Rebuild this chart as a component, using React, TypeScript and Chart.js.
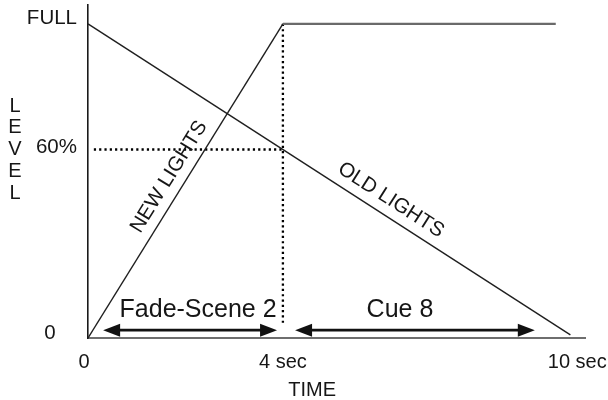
import React, { useEffect, useRef } from "react";
import { Chart, registerables } from "chart.js";

Chart.register(...registerables);

// ---- data ----
const newLightsX = [0, 4, 9.6];
const newLightsY = [0, 100, 100];
const oldLightsX = [0, 9.9];
const oldLightsY = [100, 1];
const guideH_X = [0.12, 4];
const guideH_Y = [60, 60];
const guideV_X = [4, 4];
const guideV_Y = [100, 4.8];

const xTickValues = [0, 4, 10];
const xTickLabels = ["0", "4 sec", "10 sec"];
const yTickValues = [100, 60, 0];
const yTickLabels = ["FULL", "60%", "0"];

const arrowLabels = ["Fade-Scene 2", "Cue 8"];
const arrowStarts = [0.31, 4.25];
const arrowEnds = [3.88, 9.17];
const arrowLevel = [2.5, 2.5];

const lineLabels = ["NEW LIGHTS", "OLD LIGHTS"];
const xTitle = "TIME";
const yTitle = "LEVEL";

const FONT = "'Liberation Sans', Arial, Helvetica, sans-serif";
const TEXT = "#161616";

const pts = (xs: number[], ys: number[]) => xs.map((x, i) => ({ x, y: ys[i] }));

const annotations = {
  id: "annotations",
  afterDraw(chart: any) {
    const { ctx, scales } = chart;
    const xs = scales.x;
    const ys = scales.y;
    const px = (v: number) => xs.getPixelForValue(v);
    const py = (v: number) => ys.getPixelForValue(v);
    ctx.save();
    ctx.fillStyle = TEXT;

    // x tick labels
    ctx.font = `20px ${FONT}`;
    ctx.textAlign = "center";
    ctx.textBaseline = "middle";
    xTickValues.forEach((v, i) => {
      ctx.fillText(xTickLabels[i], px(v) - (i === 0 ? 4 : i === 2 ? -2 : 0), py(0) + 24);
    });
    ctx.fillText(xTitle, px(4.6), py(0) + 52);

    // y tick labels
    ctx.font = `20.5px ${FONT}`;
    yTickValues.forEach((v, i) => {
      if (v === 0) {
        ctx.textAlign = "center";
        ctx.fillText(yTickLabels[i], xs.left - 38, py(v) - 5);
      } else {
        ctx.textAlign = "right";
        ctx.fillText(yTickLabels[i], xs.left - 11, py(v) - (v === 100 ? 6 : 2));
      }
    });

    // y title stacked
    ctx.font = `20px ${FONT}`;
    ctx.textAlign = "center";
    const letters = yTitle.split("");
    letters.forEach((ch, i) => {
      ctx.fillText(ch, 15, 106 + i * 21.8);
    });

    // arrows
    arrowLabels.forEach((lab, i) => {
      const x1 = px(arrowStarts[i]);
      const x2 = px(arrowEnds[i]);
      const y = py(arrowLevel[i]);
      const head = 17;
      const hw = 6.5;
      ctx.strokeStyle = "#111";
      ctx.lineWidth = 2.8;
      ctx.beginPath();
      ctx.moveTo(x1 + head - 2, y);
      ctx.lineTo(x2 - head + 2, y);
      ctx.stroke();
      ctx.fillStyle = "#111";
      ctx.beginPath();
      ctx.moveTo(x1, y);
      ctx.lineTo(x1 + head, y - hw);
      ctx.lineTo(x1 + head, y + hw);
      ctx.closePath();
      ctx.fill();
      ctx.beginPath();
      ctx.moveTo(x2, y);
      ctx.lineTo(x2 - head, y - hw);
      ctx.lineTo(x2 - head, y + hw);
      ctx.closePath();
      ctx.fill();
      ctx.fillStyle = TEXT;
      ctx.font = `25px ${FONT}`;
      ctx.textAlign = "center";
      ctx.textBaseline = "middle";
      const cx = i === 0 ? (x1 + x2) / 2 + 8 : (x1 + x2) / 2 - 15;
      ctx.fillText(lab, cx, y - 20);
    });

    // rotated line labels
    const drawAlong = (
      text: string,
      ax: number, ay: number, bx: number, by: number,
      t: number, offset: number
    ) => {
      const x0 = px(ax), y0 = py(ay), x1 = px(bx), y1 = py(by);
      let ang = Math.atan2(y1 - y0, x1 - x0);
      const dx = x1 - x0, dy = y1 - y0;
      if (ang < -Math.PI / 2 || ang > Math.PI / 2) {
        ang += Math.PI;
      }
      const nx = Math.sin(ang), ny = -Math.cos(ang);
      const cx = x0 + dx * t + nx * offset;
      const cy = y0 + dy * t + ny * offset;
      ctx.save();
      ctx.translate(cx, cy);
      ctx.rotate(ang);
      ctx.font = `20.5px ${FONT}`;
      ctx.textAlign = "center";
      ctx.textBaseline = "middle";
      ctx.fillStyle = TEXT;
      ctx.fillText(text, 0, 0);
      ctx.restore();
    };
    drawAlong(lineLabels[0], newLightsX[0], newLightsY[0], newLightsX[1], newLightsY[1], 0.486, 16);
    drawAlong(lineLabels[1], oldLightsX[0], oldLightsY[0], oldLightsX[1], oldLightsY[1], 0.61, 16);

    ctx.restore();
  },
};

export default function App() {
  const ref = useRef<HTMLCanvasElement | null>(null);
  useEffect(() => {
    if (!ref.current) return;
    const chart = new Chart(ref.current, {
      type: "line",
      data: {
        datasets: [
          {
            label: "new",
            data: pts(newLightsX, newLightsY),
            borderColor: "#1f1f1f",
            borderWidth: 1.4,
            pointRadius: 0,
            tension: 0,
            segment: {
              borderColor: (c: any) => (c.p0DataIndex === 1 ? "#6a6a6a" : "#1f1f1f"),
              borderWidth: (c: any) => (c.p0DataIndex === 1 ? 2.2 : 1.4),
            },
          },
          {
            label: "old",
            data: pts(oldLightsX, oldLightsY),
            borderColor: "#1f1f1f",
            borderWidth: 1.4,
            pointRadius: 0,
          },
          {
            label: "guideH",
            data: pts(guideH_X, guideH_Y),
            borderColor: "#000",
            borderWidth: 2.3,
            borderDash: [2.2, 3.1],
            pointRadius: 0,
          },
          {
            label: "guideV",
            data: pts(guideV_X, guideV_Y),
            borderColor: "#000",
            borderWidth: 2.3,
            borderDash: [2.2, 3.1],
            pointRadius: 0,
          },
        ],
      },
      options: {
        animation: false,
        responsive: false,
        parsing: false as any,
        layout: { padding: { left: 88, right: 23, top: 5, bottom: 62 } },
        plugins: { legend: { display: false }, tooltip: { enabled: false } },
        scales: {
          x: {
            type: "linear",
            min: 0,
            max: 10.2,
            grid: { display: false, drawTicks: false },
            ticks: { display: false },
            border: { display: true, color: "#6e6e6e", width: 2 },
          },
          y: {
            type: "linear",
            min: 0,
            max: 106,
            grid: { display: false, drawTicks: false },
            ticks: { display: false },
            border: { display: true, color: "#1a1a1a", width: 1.6 },
          },
        },
      },
      plugins: [annotations],
    });
    return () => chart.destroy();
  }, []);
  return (
    <div style={{ position: "fixed", left: 0, top: 0, width: 608, height: 400, background: "#fff" }}>
      <canvas ref={ref} width={608} height={400} style={{ display: "block" }} />
    </div>
  );
}
